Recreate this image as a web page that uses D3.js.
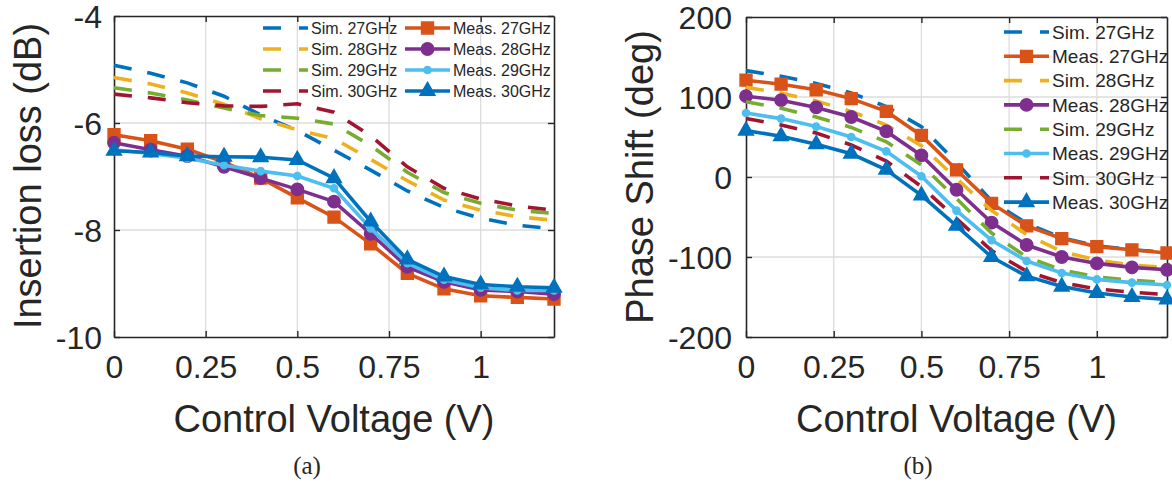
<!DOCTYPE html>
<html><head><meta charset="utf-8">
<script src="https://cdn.jsdelivr.net/npm/d3@7"></script>
<style>
body{margin:0;background:#fff}
svg{display:block}
text{font-family:"Liberation Sans",Arial,Helvetica,sans-serif;fill:#262626}
</style>
</head><body>
<svg id="chart" width="1172" height="484"></svg>
<script>
// ---------- DATA ----------
const voltage = [0,0.1,0.2,0.3,0.4,0.5,0.6,0.7,0.8,0.9,1.0,1.1,1.2];
const xTickValues = [0,0.25,0.5,0.75,1];
const xTickLabels = ["0","0.25","0.5","0.75","1"];

// (a) Insertion loss (dB)
const ilTickValues = [-10,-8,-6,-4];
const ilTickLabels = ["-10","-8","-6","-4"];
const ilSim27  = [-4.92,-5.07,-5.25,-5.50,-5.85,-6.14,-6.51,-6.88,-7.27,-7.58,-7.78,-7.91,-7.98];
const ilSim28  = [-5.15,-5.27,-5.44,-5.65,-5.92,-6.13,-6.29,-6.68,-7.08,-7.44,-7.63,-7.75,-7.82];
const ilSim29  = [-5.34,-5.44,-5.57,-5.72,-5.86,-5.91,-6.02,-6.42,-6.92,-7.30,-7.50,-7.63,-7.69];
const ilSim30  = [-5.46,-5.53,-5.62,-5.68,-5.69,-5.64,-5.80,-6.24,-6.82,-7.22,-7.42,-7.55,-7.63];
const ilMeas27 = [-6.22,-6.33,-6.49,-6.73,-7.03,-7.40,-7.76,-8.26,-8.81,-9.10,-9.23,-9.26,-9.29];
const ilMeas28 = [-6.37,-6.50,-6.62,-6.82,-7.03,-7.24,-7.47,-8.07,-8.69,-8.97,-9.12,-9.15,-9.20];
const ilMeas29 = [-6.50,-6.57,-6.66,-6.79,-6.90,-6.99,-7.22,-7.97,-8.62,-8.93,-9.08,-9.13,-9.13];
const ilMeas30 = [-6.52,-6.55,-6.62,-6.63,-6.64,-6.69,-7.03,-7.84,-8.55,-8.87,-9.02,-9.06,-9.08];

// (b) Phase shift (deg)
const psTickValues = [-200,-100,0,100,200];
const psTickLabels = ["-200","-100","0","100","200"];
const psSim27  = [133,126,117,105,88,63,18,-30,-58,-76,-86,-91,-94];
const psSim28  = [112,105,95,82,65,39,-2,-42,-72,-93,-104,-110,-113];
const psSim29  = [94,86,75,62,44,15,-27,-70,-100,-116,-125,-129,-132];
const psSim30  = [73,65,55,40,20,-12,-52,-92,-118,-132,-140,-144,-147];
const psMeas27 = [121,116,109,98,82,52,9,-33,-61,-77,-87,-91,-95];
const psMeas28 = [101,96,87,75,57,27,-16,-57,-85,-100,-108,-113,-116];
const psMeas29 = [80,73,63,50,32,1,-42,-79,-105,-120,-128,-132,-135];
const psMeas30 = [58,51,41,29,9,-23,-61,-100,-124,-137,-145,-150,-153];

const seriesNames = ["Sim. 27GHz","Meas. 27GHz","Sim. 28GHz","Meas. 28GHz","Sim. 29GHz","Meas. 29GHz","Sim. 30GHz","Meas. 30GHz"];

// ---------- STYLE ----------
const C = {blue:"#0072BD", orange:"#D95319", yellow:"#EDB120", purple:"#7E2F8E",
           green:"#77AC30", cyan:"#4DBEEE", red:"#A2142F"};
const styles = [
  {color:C.blue,   dash:true},
  {color:C.orange, marker:"square"},
  {color:C.yellow, dash:true},
  {color:C.purple, marker:"circle"},
  {color:C.green,  dash:true},
  {color:C.cyan,   marker:"dot"},
  {color:C.red,    dash:true},
  {color:C.blue,   marker:"triangle"}
];

const svg = d3.select("#chart");

function markerPath(type){
  if(type==="square") return d3.symbol(d3.symbolSquare,140)();
  if(type==="circle") return d3.symbol(d3.symbolCircle,120)();
  if(type==="triangle") return d3.symbol(d3.symbolTriangle,95)();
  if(type==="dot") return d3.symbol(d3.symbolCircle,40)();
  return null;
}

function drawPanel(cfg){
  const g = svg.append("g");
  const x = d3.scaleLinear().domain([0,1.2]).range(cfg.xRange);
  const y = d3.scaleLinear().domain(cfg.yDomain).range([337, cfg.yTop]);
  const [x0,x1] = cfg.xRange, y0 = 337, y1 = cfg.yTop;

  // grid
  g.append("g").selectAll("line").data(xTickValues.filter(v=>v>0)).join("line")
    .attr("x1",d=>x(d)).attr("x2",d=>x(d)).attr("y1",y0).attr("y2",y1)
    .attr("stroke","#dcdcdc").attr("stroke-width",1.3);
  g.append("g").selectAll("line").data(cfg.yTicks.slice(1,-1)).join("line")
    .attr("y1",d=>y(d)).attr("y2",d=>y(d)).attr("x1",x0).attr("x2",x1)
    .attr("stroke","#dcdcdc").attr("stroke-width",1.3);

  // axes with inward ticks
  const axB = d3.axisBottom(x).tickValues(xTickValues).tickFormat((d,i)=>xTickLabels[i]).tickSizeInner(-6).tickSizeOuter(0).tickPadding(18);
  const axT = d3.axisTop(x).tickValues(xTickValues).tickFormat("").tickSizeInner(-6).tickSizeOuter(0);
  const axL = d3.axisLeft(y).tickValues(cfg.yTicks).tickFormat((d,i)=>cfg.yTickLabels[i]).tickSizeInner(-6).tickSizeOuter(0).tickPadding(cfg.yPad);
  const axR = d3.axisRight(y).tickValues(cfg.yTicks).tickFormat("").tickSizeInner(-6).tickSizeOuter(0);
  const style = s => { s.select(".domain").attr("stroke","#262626").attr("stroke-width",1.6);
    s.selectAll(".tick line").attr("stroke","#262626").attr("stroke-width",1.4);
    s.selectAll("text").attr("fill","#262626").style("font-family","'Liberation Sans',Arial,sans-serif"); };
  g.append("g").attr("transform",`translate(0,${y0})`).call(axB).call(style)
    .selectAll("text").style("font-size","32px").attr("dy","0.71em");
  g.append("g").attr("transform",`translate(0,${y1})`).call(axT).call(style);
  g.append("g").attr("transform",`translate(${x0},0)`).call(axL).call(style)
    .selectAll("text").style("font-size","32px").attr("dy","0.36em");
  g.append("g").attr("transform",`translate(${x1},0)`).call(axR).call(style);

  // series
  const line = d3.line().x((d,i)=>x(voltage[i])).y(d=>y(d));
  cfg.series.forEach((vals,k)=>{
    const st = styles[k];
    g.append("path").datum(vals).attr("d",line).attr("fill","none")
      .attr("stroke",st.color).attr("stroke-width",3.6)
      .attr("stroke-dasharray",st.dash?"18,16":null);
    if(st.marker){
      g.append("g").selectAll("path").data(vals).join("path")
        .attr("transform",(d,i)=>`translate(${x(voltage[i])},${y(d)})`)
        .attr("d",markerPath(st.marker)).attr("fill",st.color).attr("stroke",st.color).attr("stroke-width",1.5);
    }
  });

  // labels
  g.append("text").attr("x",(x0+x1)/2).attr("y",432).attr("text-anchor","middle")
    .style("font-size","38px").text("Control Voltage (V)");
  g.append("text").attr("transform",`translate(${cfg.yLabelX},${cfg.yLabelY}) rotate(-90)`)
    .attr("text-anchor","middle").style("font-size","38px").text(cfg.yLabel);
  g.append("text").attr("x",cfg.capX).attr("y",474).attr("text-anchor","middle")
    .style("font-family","'Liberation Serif','DejaVu Serif',serif").style("font-size","25px").text(cfg.caption);

  // legend (transparent, no box)
  const lg = g.append("g");
  cfg.legend.forEach(it=>{
    const st = styles[it.k];
    lg.append("line").attr("x1",it.x).attr("x2",it.x+45).attr("y1",it.y).attr("y2",it.y)
      .attr("stroke",st.color).attr("stroke-width",3.6)
      .attr("stroke-dasharray",st.dash?"18,18":null);
    if(st.marker){
      lg.append("path").attr("transform",`translate(${it.x+22.5},${it.y})`)
        .attr("d",markerPath(st.marker)).attr("fill",st.color).attr("stroke",st.color).attr("stroke-width",1.5);
    }
    lg.append("text").attr("x",it.x+48).attr("y",it.y).attr("dy","0.36em")
      .style("font-size",cfg.legendFont+"px").text(seriesNames[it.k]);
  });
}

// Panel (a)
const legA = [];
[0,2,4,6].forEach((k,r)=>legA.push({k:k, x:263, y:28+r*21}));
[1,3,5,7].forEach((k,r)=>legA.push({k:k, x:405, y:28+r*21}));
drawPanel({
  xRange:[114,554], yDomain:[-10,-4], yTop:16, yTicks:ilTickValues, yTickLabels:ilTickLabels, yPad:12,
  series:[ilSim27,ilMeas27,ilSim28,ilMeas28,ilSim29,ilMeas29,ilSim30,ilMeas30],
  yLabel:"Insertion loss (dB)", yLabelX:41, yLabelY:176,
  caption:"(a)", capX:307, legend:legA, legendFont:16
});

// Panel (b)
const legB = [0,1,2,3,4,5,6,7].map((k,r)=>({k:k, x:1004, y:32+r*24.3}));
drawPanel({
  xRange:[746,1167], yDomain:[-200,200], yTop:17, yTicks:psTickValues, yTickLabels:psTickLabels, yPad:14,
  series:[psSim27,psMeas27,psSim28,psMeas28,psSim29,psMeas29,psSim30,psMeas30],
  yLabel:"Phase Shift (deg)", yLabelX:653, yLabelY:177,
  caption:"(b)", capX:918, legend:legB, legendFont:19
});
</script>
</body></html>
